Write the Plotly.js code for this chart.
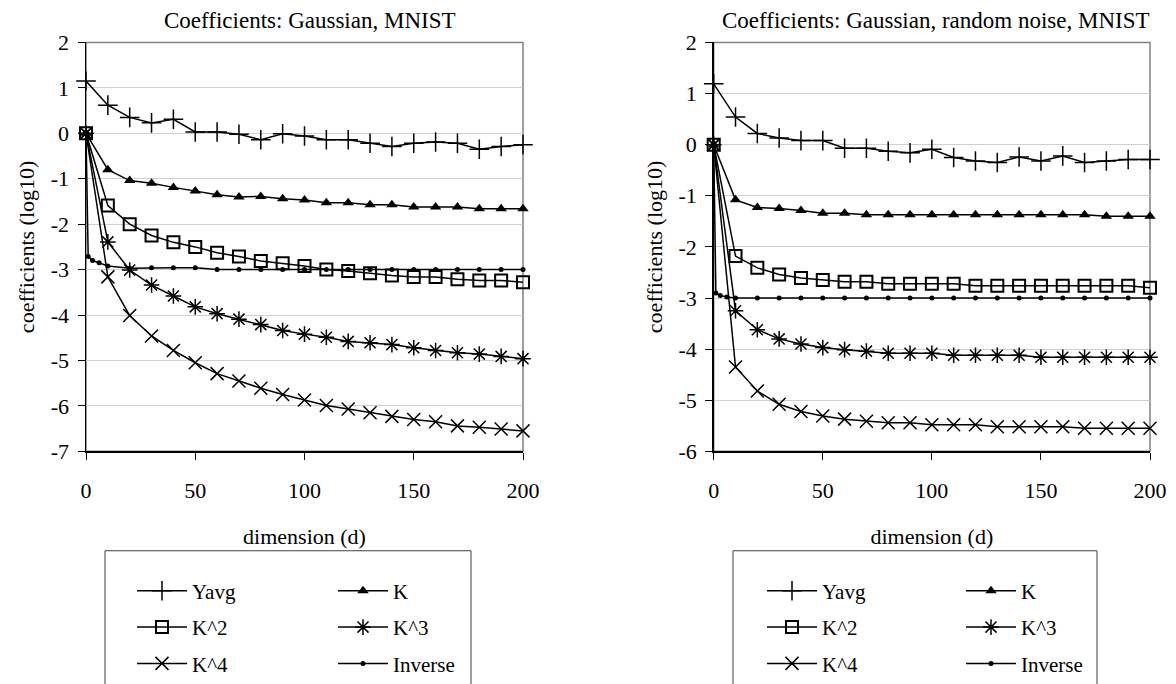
<!DOCTYPE html>
<html>
<head>
<meta charset="utf-8">
<script src="https://cdn.plot.ly/plotly-3.0.1.min.js"></script>
<style>
  html, body { margin: 0; padding: 0; background: #ffffff; }
  #chart { width: 1176px; height: 684px; }
</style>
</head>
<body>
<div id="chart"></div>
<script>
// Dimensions sampled for every series (Inverse also has a few extra early points)
const dims = [0, 10, 20, 30, 40, 50, 60, 70, 80, 90, 100, 110, 120, 130, 140, 150, 160, 170, 180, 190, 200];
const dimsInverse = [0, 1, 3, 6, 10, 20, 30, 40, 50, 60, 70, 80, 90, 100, 110, 120, 130, 140, 150, 160, 170, 180, 190, 200];

const seriesNames = ['Yavg', 'K', 'K^2', 'K^3', 'K^4', 'Inverse'];

// Coefficients (log10) — Gaussian, MNIST
const yavgA = [1.15, 0.62, 0.35, 0.23, 0.31, 0.03, 0.03, -0.02, -0.14, -0.01, -0.06, -0.14, -0.14, -0.22, -0.29, -0.22, -0.19, -0.22, -0.35, -0.29, -0.25];
const kA    = [0, -0.8, -1.04, -1.1, -1.19, -1.27, -1.35, -1.4, -1.39, -1.44, -1.47, -1.53, -1.53, -1.57, -1.57, -1.62, -1.62, -1.62, -1.66, -1.66, -1.66];
const k2A   = [0, -1.59, -2.0, -2.25, -2.4, -2.5, -2.63, -2.71, -2.81, -2.86, -2.92, -3.0, -3.03, -3.08, -3.13, -3.16, -3.16, -3.21, -3.24, -3.24, -3.28];
const k3A   = [0, -2.39, -3.01, -3.34, -3.58, -3.82, -3.97, -4.09, -4.21, -4.34, -4.42, -4.49, -4.58, -4.61, -4.65, -4.72, -4.78, -4.83, -4.86, -4.91, -4.96];
const k4A   = [0, -3.16, -4.01, -4.46, -4.78, -5.05, -5.29, -5.45, -5.61, -5.75, -5.87, -5.99, -6.07, -6.15, -6.23, -6.3, -6.35, -6.44, -6.47, -6.51, -6.55];
const invA  = [0, -2.71, -2.8, -2.85, -2.92, -2.97, -2.96, -2.96, -2.96, -3.0, -3.0, -3.0, -3.0, -3.0, -3.0, -3.0, -3.0, -3.0, -3.0, -3.0, -3.0, -3.0, -3.0, -3.0];

// Coefficients (log10) — Gaussian, random noise, MNIST
const yavgB = [1.19, 0.54, 0.22, 0.13, 0.08, 0.08, -0.07, -0.07, -0.13, -0.16, -0.09, -0.25, -0.32, -0.35, -0.24, -0.32, -0.22, -0.35, -0.32, -0.29, -0.29];
const kB    = [0, -1.08, -1.23, -1.25, -1.29, -1.34, -1.34, -1.37, -1.37, -1.37, -1.37, -1.37, -1.37, -1.37, -1.37, -1.37, -1.37, -1.37, -1.4, -1.4, -1.4];
const k2B   = [0, -2.18, -2.41, -2.54, -2.61, -2.65, -2.68, -2.68, -2.72, -2.72, -2.72, -2.72, -2.76, -2.76, -2.76, -2.76, -2.76, -2.76, -2.76, -2.76, -2.8];
const k3B   = [0, -3.25, -3.62, -3.8, -3.9, -3.97, -4.01, -4.04, -4.08, -4.08, -4.08, -4.12, -4.12, -4.12, -4.12, -4.16, -4.16, -4.16, -4.16, -4.16, -4.16];
const k4B   = [0, -4.35, -4.82, -5.08, -5.22, -5.31, -5.37, -5.41, -5.44, -5.44, -5.48, -5.48, -5.48, -5.52, -5.52, -5.52, -5.52, -5.55, -5.55, -5.55, -5.55];
const invB  = [0, -2.9, -2.95, -2.98, -3.0, -3.0, -3.0, -3.0, -3.0, -3.0, -3.0, -3.0, -3.0, -3.0, -3.0, -3.0, -3.0, -3.0, -3.0, -3.0, -3.0, -3.0, -3.0, -3.0];

const xTicks = [0, 50, 100, 150, 200];
const yTicksA = [2, 1, 0, -1, -2, -3, -4, -5, -6, -7];
const yTicksB = [2, 1, 0, -1, -2, -3, -4, -5, -6];

const panelTitles = ['Coefficients: Gaussian, MNIST', 'Coefficients: Gaussian, random noise, MNIST'];

const FONT = '"Liberation Serif", "Times New Roman", Times, serif';
const INK = '#000000';

// marker style per series
const markerStyles = {
  'Yavg':    { symbol: 'cross-thin-open', size: 14, line: { color: INK, width: 1.5 }, color: INK },
  'K':       { symbol: 'triangle-up', size: 10, color: INK, line: { width: 0 } },
  'K^2':     { symbol: 'square-open', size: 12, color: INK, line: { color: INK, width: 2 } },
  'K^3':     { symbol: 'asterisk-open', size: 13, line: { color: INK, width: 1.5 }, color: INK },
  'K^4':     { symbol: 'x-thin-open', size: 13, line: { color: INK, width: 1.5 }, color: INK },
  'Inverse': { symbol: 'circle', size: 5, color: INK, line: { width: 0 } }
};

// which legend column each series sits in
const legendColumn = { 'Yavg': 0, 'K^2': 0, 'K^4': 0, 'K': 1, 'K^3': 1, 'Inverse': 1 };

function panelTraces(panel, values) {
  const xa = panel === 0 ? 'x' : 'x2';
  const ya = panel === 0 ? 'y' : 'y2';
  return seriesNames.map(name => {
    const col = legendColumn[name];
    const legendIdx = panel * 2 + col + 1;
    return {
      type: 'scatter',
      mode: 'lines+markers',
      name: name,
      x: name === 'Inverse' ? dimsInverse : dims,
      y: values[name],
      xaxis: xa,
      yaxis: ya,
      line: { color: INK, width: 1.5 },
      marker: markerStyles[name],
      legend: legendIdx === 1 ? 'legend' : 'legend' + legendIdx,
      legendgroup: 'p' + panel + name,
      cliponaxis: false
    };
  });
}

const traces = [
  ...panelTraces(0, { 'Yavg': yavgA, 'K': kA, 'K^2': k2A, 'K^3': k3A, 'K^4': k4A, 'Inverse': invA }),
  ...panelTraces(1, { 'Yavg': yavgB, 'K': kB, 'K^2': k2B, 'K^3': k3B, 'K^4': k4B, 'Inverse': invB })
];

const W = 1176, H = 684;
const px = v => v / W;
const py = v => 1 - v / H;

// tick labels use a plain hyphen for negatives
const tickText = vals => vals.map(v => (v < 0 ? '-' + Math.abs(v) : String(v)));

function xAxis(domain) {
  return {
    domain: domain,
    range: [0, 200],
    tickvals: xTicks,
    ticktext: tickText(xTicks),
    ticks: 'outside', ticklen: 7, tickcolor: INK, tickwidth: 1,
    ticklabelstandoff: 12,
    showline: true, linecolor: INK, linewidth: 1.5,
    showgrid: false, zeroline: false,
    tickfont: { family: FONT, size: 22, color: INK },
    title: { text: 'dimension (d)', font: { family: FONT, size: 22, color: INK }, standoff: 26 },
    automargin: false
  };
}
function yAxis(range, ticks, anchor) {
  return {
    domain: [py(454), py(42.7)],
    range: range,
    tickvals: ticks,
    ticktext: tickText(ticks),
    anchor: anchor,
    ticks: 'outside', ticklen: 7, tickcolor: INK, tickwidth: 1,
    ticklabelstandoff: 4,
    showline: true, linecolor: INK, linewidth: 1.5,
    showgrid: true, gridcolor: '#cfcfcf', gridwidth: 1,
    zeroline: false,
    tickfont: { family: FONT, size: 22, color: INK },
    title: { text: 'coefficients (log10)', font: { family: FONT, size: 22, color: INK }, standoff: 10 },
    automargin: false
  };
}

function legendAt(xPx, topPx) {
  return {
    x: px(xPx), y: py(topPx), xanchor: 'left', yanchor: 'top',
    xref: 'paper', yref: 'paper',
    orientation: 'v',
    bgcolor: 'rgba(0,0,0,0)', borderwidth: 0,
    font: { family: FONT, size: 21, color: INK },
    tracegroupgap: 6,
    itemwidth: 50,
    itemclick: false, itemdoubleclick: false
  };
}

const layout = {
  width: W, height: H,
  margin: { l: 0, r: 0, t: 0, b: 0 },
  paper_bgcolor: '#ffffff',
  plot_bgcolor: '#ffffff',
  font: { family: FONT, color: INK },
  showlegend: true,
  xaxis: xAxis([px(86), px(523)]),
  yaxis: yAxis([-7, 2], yTicksA, 'x'),
  xaxis2: Object.assign(xAxis([px(713.7), px(1150)]), { anchor: 'y2' }),
  yaxis2: yAxis([-6, 2], yTicksB, 'x2'),
  legend: legendAt(132, 574),
  legend2: legendAt(333, 574),
  legend3: legendAt(762, 574),
  legend4: legendAt(961, 574),
  annotations: [
    { text: panelTitles[0], xref: 'paper', yref: 'paper', x: px(309.5), y: py(21), xanchor: 'center', yanchor: 'middle', showarrow: false, font: { family: FONT, size: 23, color: INK } },
    { text: panelTitles[1], xref: 'paper', yref: 'paper', x: px(935.7), y: py(21), xanchor: 'center', yanchor: 'middle', showarrow: false, font: { family: FONT, size: 23, color: INK } }
  ],
  shapes: [
    // plot-area frames (top and right edges in grey)
    { type: 'rect', xref: 'x domain', yref: 'y domain', x0: 0, x1: 1, y0: 0, y1: 1, line: { color: '#808080', width: 1.5 }, layer: 'below' },
    { type: 'rect', xref: 'x2 domain', yref: 'y2 domain', x0: 0, x1: 1, y0: 0, y1: 1, line: { color: '#808080', width: 1.5 }, layer: 'below' },
    // legend boxes
    { type: 'rect', xref: 'paper', yref: 'paper', x0: px(105), x1: px(471), y0: py(700), y1: py(554), line: { color: '#404040', width: 1 } },
    { type: 'rect', xref: 'paper', yref: 'paper', x0: px(733), x1: px(1097), y0: py(700), y1: py(554), line: { color: '#404040', width: 1 } }
  ]
};

Plotly.newPlot('chart', traces, layout, { displayModeBar: false, staticPlot: true });
</script>
</body>
</html>
